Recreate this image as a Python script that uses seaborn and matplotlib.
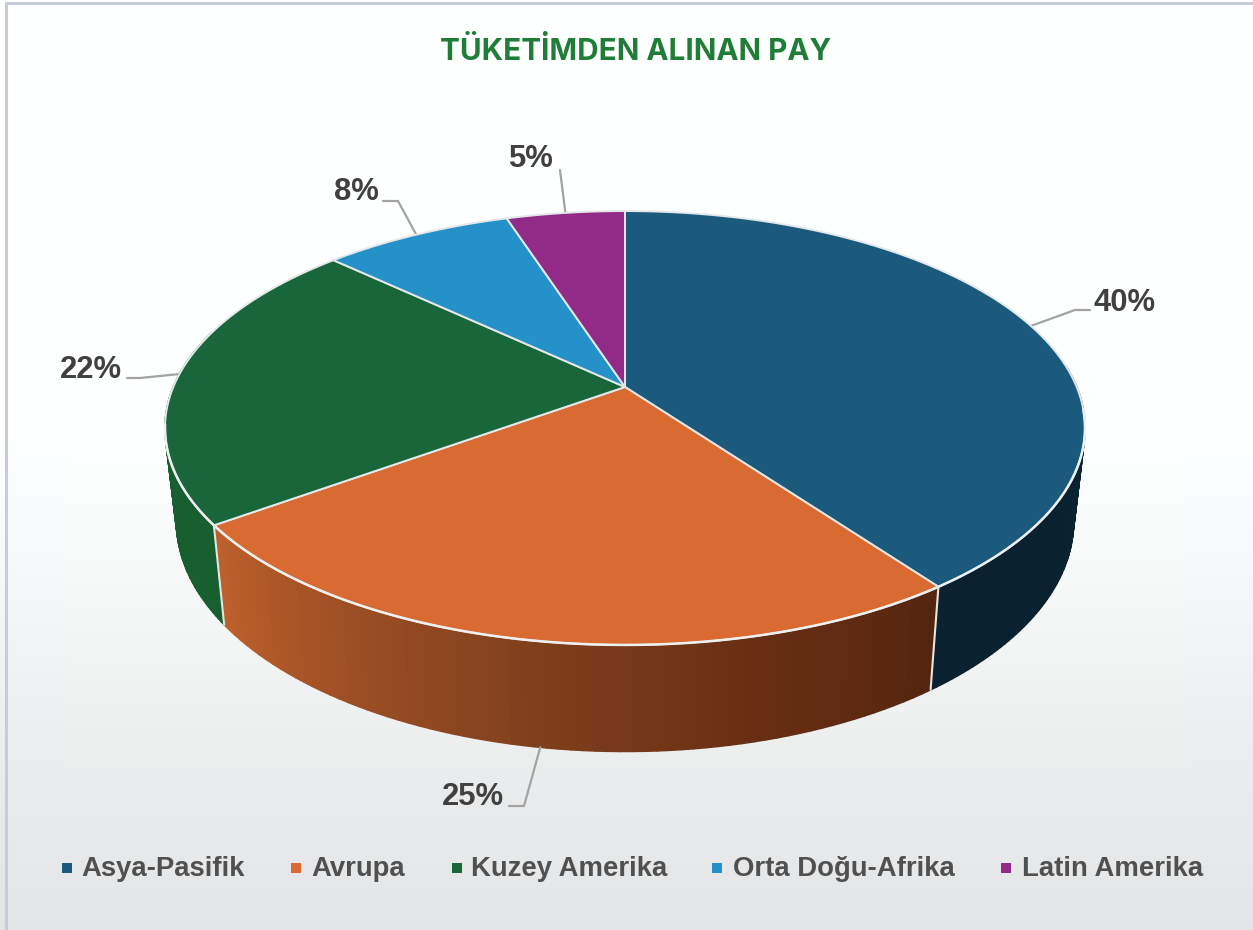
import numpy as np
import pandas as pd
import matplotlib
matplotlib.use('Agg')
import matplotlib.pyplot as plt
from matplotlib.collections import PolyCollection
import seaborn as sns

title = 'TÜKETİMDEN ALINAN PAY'
regions = ['Asya-Pasifik', 'Avrupa', 'Kuzey Amerika', 'Orta Doğu-Afrika', 'Latin Amerika']
shares = [40, 25, 22, 8, 5]

top_colors = ['#1b5a7c', '#d96b32', '#18663a', '#2492c8', '#922b88']
# listed in drawing order, clockwise, so the orange one runs dark to light
wall_colors = {
    0: ['#0a2331', '#0a2230'],
    1: ['#54260f', '#692f14', '#7e3f1c', '#9d4f24', '#bd602c'],
    2: ['#185f30', '#185f30'],
}

# pixel layout of the disc
W, H = 1253, 930
cx, cy = 625, 387
A, B, K = 451.7, 209.2, 0.189
wall_x, wall_y, wall_cy = 0.975, 1.06, 478

legend_x = [67, 296, 457, 717, 1006]
legend_text_x = [81, 311, 471, 733, 1022]
legend_y = 868
# label centre, elbow
label_pos = [(1125, 303), (473, 797), (91, 370), (356, 192), (531, 159)]
elbows = [[(1075, 310), (1090, 310)], [(524, 806), (509, 806)], [(140, 378), (127, 378)],
          [(398, 201), (383, 201)], [(560, 170)]]


def rim(t, bottom=False):
    # t = clockwise radians from top, perspective circle
    u, v = np.sin(t), np.cos(t)
    d = 1 + K * v
    x, y = A * u / d, -B * v / d
    if bottom:
        return cx + wall_x * x, wall_cy + wall_y * y
    return cx + x, cy + y


sns.set_theme(style='white')
plt.rcParams['font.family'] = ['Liberation Sans', 'DejaVu Sans']
fig = plt.figure(figsize=(W / 100, H / 100), dpi=100)
ax = fig.add_axes([0, 0, 1, 1])
ax.set_xlim(0, W)
ax.set_ylim(H, 0)
ax.axis('off')

# background, the middle box is a touch warmer than the rest
grad_y = np.array([0, 430, 560, 700, 800, 930])
grad_v = np.array([255, 255, 248, 240, 234, 229])
bg = np.interp(np.arange(H), grad_y, grad_v)
bg_img = np.stack([bg - 0.5, bg + 0.5, bg + 1.5], axis=1).clip(0, 255)[:, None, :] / 255
ax.imshow(bg_img, extent=[0, W, H, 0], aspect='auto', zorder=0)
box = np.stack([bg, bg + 1, bg + 1], axis=1).clip(0, 255)[430:770, None, :] / 255
ax.imshow(box, extent=[65, 1185, 770, 430], aspect='auto', zorder=0.5)
ax.plot([5.5, 5.5], [3, H], color='#c6ccd9', lw=2.2, zorder=1)
ax.plot([5.5, W], [3.5, 3.5], color='#c6ccd9', lw=2.2, zorder=1)

edges = np.radians(np.cumsum([0] + shares) * 3.6)

# side walls first
side_start, side_end = np.radians(84), np.radians(286)
for i in range(len(shares)):
    lo, hi = max(edges[i], side_start), min(edges[i + 1], side_end)
    if lo >= hi or i not in wall_colors:
        continue
    ts = np.linspace(lo, hi, 70)
    pal = sns.blend_palette(wall_colors[i], len(ts) - 1)
    polys = []
    for a, b in zip(ts[:-1], ts[1:]):
        polys.append([rim(a), rim(b), rim(b, True), rim(a, True)])
    ax.add_collection(PolyCollection(polys, facecolors=pal, edgecolors=pal, linewidths=1.2, zorder=2))

# top face
for i in range(len(shares)):
    ts = np.linspace(edges[i], edges[i + 1], 160)
    xs, ys = rim(ts)
    ax.fill(np.r_[cx, xs], np.r_[cy, ys], color=top_colors[i], ec='#e4e8ea', lw=1.4, zorder=3, joinstyle='round')

# white lines along the front
ts = np.linspace(np.radians(96), np.radians(260), 200)
ax.plot(*rim(ts), color='#eef0f0', lw=1.8, zorder=4)
for e in edges[[1, 2]]:
    xa, ya = rim(e)
    xb, yb = rim(e, True)
    ax.plot([xa, xb], [ya, yb], color='#e8e4e0', lw=1.5, zorder=4)

# data labels and leader lines
mids = (edges[:-1] + edges[1:]) / 2
for i, v in enumerate(shares):
    x0, y0 = rim(mids[i], bottom=(i == 1))
    pts = [(x0, y0)] + elbows[i]
    ax.plot([p[0] for p in pts], [p[1] for p in pts], color='#a3a3a3', lw=1.6, zorder=2.5)
    ax.text(label_pos[i][0], label_pos[i][1], f'{v}%', fontsize=22.3, fontweight='bold',
            color='#404040', ha='center', va='center', zorder=5)

ax.text(636, 52, title, fontsize=21.4, fontweight='bold', color='#1f7d37', family='Inter',
        ha='center', va='center', zorder=5)

# legend
legend_df = pd.DataFrame({'x': legend_x, 'y': [legend_y] * 5, 'region': regions})
sns.scatterplot(data=legend_df, x='x', y='y', hue='region', palette=top_colors, marker='s',
                s=62, linewidth=0, legend=False, ax=ax, zorder=5)
for tx, name in zip(legend_text_x, regions):
    ax.text(tx, legend_y + 1, name, fontsize=19.8, fontweight='bold', color='#505050',
            ha='left', va='center', zorder=5)
ax.set_xlim(0, W)
ax.set_ylim(H, 0)
ax.axis('off')

fig.savefig('out.png', dpi=100)
